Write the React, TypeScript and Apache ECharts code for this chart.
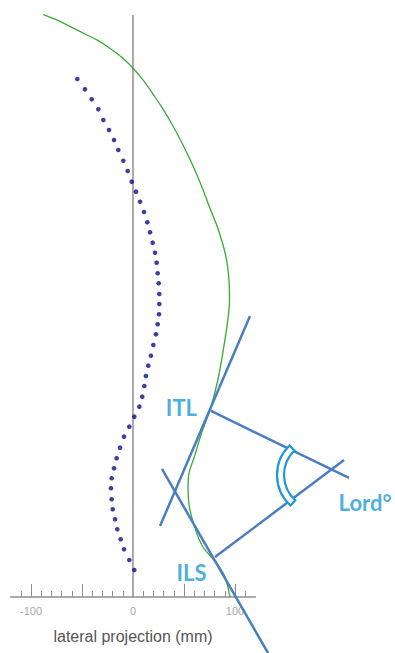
import React, { useEffect, useRef } from "react";
import * as echarts from "echarts";

// Green curve: sagittal profile (x = lateral mm, y = height mm)
const greenCurve: [number, number][] = [
  [-88, 571], [-73, 565], [-59, 558], [-47, 552], [-35, 546], [-25.5, 540], [-16, 533], [-8, 526.5], [-1, 519.6],
  [9.8, 506.9], [21.6, 490.2], [29.9, 477.5], [39.7, 460.8], [50, 441.2], [59.3, 421.6], [67.6, 402], [75, 382.4],
  [83.8, 359.8], [91.2, 333.3], [94.1, 310.8], [94.6, 291.2],
  [93, 272], [88, 239], [83, 212], [76, 185], [67, 160], [60, 137], [55, 122],
  [54, 108], [55, 90], [60, 70], [68, 50], [82, 33], [90, 20], [95, 0],
];

// Dotted navy series
const dotSeries: [number, number][] = [
  [-54.6, 507.8], [-47.1, 497.7], [-40.5, 487.9], [-34.0, 478.1], [-29.1, 467.6],
  [-23.5, 457.8], [-18.6, 448.0], [-14.4, 438.2], [-9.5, 427.7], [-5.2, 417.6],
  [-1.3, 407.2], [2.9, 397.4], [6.9, 387.5], [10.8, 377.5], [14.0, 367.4],
  [16.7, 357.5], [19.3, 347.4], [21.6, 337.5], [23.2, 327.7], [24.2, 317.4],
  [25.2, 307.5], [25.8, 297.1], [25.8, 287.3], [25.5, 277.2], [24.2, 267.4],
  [22.5, 257.5], [19.9, 247.1], [17.6, 236.6], [15.0, 226.8], [12.7, 216.7],
  [11.1, 206.9], [9.1, 196.4], [6.2, 186.6], [1.3, 176.8], [-3.6, 167.0],
  [-8.8, 157.2], [-12.7, 146.4], [-16.0, 136.0], [-18.6, 126.2], [-20.9, 116.4],
  [-21.6, 106.6], [-20.9, 95.8], [-19.9, 86.0], [-17.6, 76.2], [-15.4, 66.4],
  [-12.1, 56.6], [-8.8, 46.8], [-3.6, 36.3], [1.3, 26.5],
];

// Construction lines (tangents at ITL / ILS and their perpendiculars)
const tangentITL: [number, number][] = [[114.7, 275.5], [26.5, 69.6]];
const tangentILS: [number, number][] = [[28.4, 125.5], [132.4, -54.9]];
const perpITL: [number, number][] = [[76.5, 182.4], [211.8, 116.7]];
const perpILS: [number, number][] = [[80.4, 39.2], [206.9, 134.3]];
const constructionLines = [tangentITL, tangentILS, perpITL, perpILS];

// Vertical zero reference line
const zeroLine: [number, number][] = [[0, 0], [0, 570.6]];

// Angle arc centre (mm)
const arcCenter: [number, number] = [181.4, 119.6];

// Annotation labels
const labelNames = ["ITL", "ILS", "Lord°"];
const labelX = [47.5, 57.4, 227.5];
const labelY = [185.3, 24.5, 92.2];

// Axis ticks
const xAxisMin = -120;
const xAxisMax = 120;
const xMinorTicks = [-110, -100, -90, -80, -70, -60, -50, -40, -30, -20, -10, 10, 20, 30, 40, 50, 60, 70, 80, 90, 100, 110];
const xMajorTicks = [-100, -50, 50, 100];
const xTickLabels = [-100, 0, 100];
const xAxisName = "lateral projection (mm)";

export default function App() {
  const ref = useRef<HTMLDivElement>(null);
  useEffect(() => {
    if (!ref.current) return;
    const chart = echarts.init(ref.current, null, { renderer: "svg" });
    const axisGray = "#8f8f8f";
    const lineBlue = "#4a7dc1";
    const lightBlue = "#1a9ad6";
    const scale = 1.02;
    const x0 = 133;
    const y0 = 597;
    const W = 395;
    const H = 653;
    const xMin = -x0 / scale;
    const xMax = (W - x0) / scale;
    const yMin = -(H - y0) / scale;
    const yMax = y0 / scale;
    const axLeft = x0 + xAxisMin * scale;
    const axWidth = (xAxisMax - xAxisMin) * scale;
    const plainLine = (data: [number, number][], color: string, width: number, z: number) => ({
      type: "line",
      data,
      showSymbol: false,
      clip: false,
      silent: true,
      lineStyle: { color, width },
      z,
    });
    chart.setOption({
      animation: false,
      backgroundColor: "#ffffff",
      grid: [
        { left: 0, top: 0, width: W, height: H, outerBoundsMode: "none", containLabel: false },
        { left: axLeft, width: axWidth, top: y0 - 100, height: 100, outerBoundsMode: "none", containLabel: false },
      ],
      xAxis: [
        { type: "value", gridIndex: 0, min: xMin, max: xMax, show: false },
        {
          type: "value",
          gridIndex: 1,
          min: xAxisMin,
          max: xAxisMax,
          position: "bottom",
          axisLine: { show: true, onZero: false, lineStyle: { color: axisGray, width: 1.5 } },
          axisTick: { show: true, inside: true, length: 6, customValues: xMinorTicks, lineStyle: { color: axisGray, width: 1 } },
          axisLabel: {
            show: true,
            customValues: xTickLabels,
            color: "#a8a8a8",
            fontSize: 11,
            margin: 8,
            fontFamily: "Liberation Sans, Arial, sans-serif",
          },
          splitLine: { show: false },
          name: xAxisName,
          nameLocation: "middle",
          nameGap: 31,
          nameTextStyle: { color: "#555555", fontSize: 16, fontFamily: "Liberation Sans, Arial, sans-serif" },
        },
        {
          type: "value",
          gridIndex: 1,
          min: xAxisMin,
          max: xAxisMax,
          position: "bottom",
          axisLine: { show: false, onZero: false },
          axisTick: { show: true, inside: true, length: 13, customValues: xMajorTicks, lineStyle: { color: axisGray, width: 1 } },
          axisLabel: { show: false },
          splitLine: { show: false },
        },
      ],
      yAxis: [
        { type: "value", gridIndex: 0, min: yMin, max: yMax, show: false },
        { type: "value", gridIndex: 1, min: 0, max: 1, show: false },
      ],
      series: [
        plainLine(zeroLine, axisGray, 1.5, 1),
        {
          type: "line",
          data: greenCurve,
          smooth: 0.35,
          showSymbol: false,
          clip: false,
          lineStyle: { color: "#3aa935", width: 1.3 },
          z: 2,
        },
        {
          type: "scatter",
          data: dotSeries,
          symbolSize: 4.6,
          clip: false,
          itemStyle: { color: "#0c0c8e" },
          z: 3,
        },
        ...constructionLines.map((seg) => plainLine(seg, lineBlue, 2.5, 4)),
        {
          type: "custom",
          coordinateSystem: "cartesian2d",
          data: [arcCenter],
          clip: false,
          z: 6,
          renderItem: (_params: any, api: any) => {
            const p = api.coord([api.value(0), api.value(1)]);
            return {
              type: "sector",
              shape: {
                cx: p[0],
                cy: p[1],
                r0: 34,
                r: 41,
                startAngle: (132 * Math.PI) / 180,
                endAngle: (226 * Math.PI) / 180,
                clockwise: true,
              },
              style: { fill: "#ffffff", stroke: lightBlue, lineWidth: 2.2 },
            };
          },
        },
        {
          type: "scatter",
          data: labelNames.map((n, i) => ({ name: n, value: [labelX[i], labelY[i]] })),
          symbolSize: 0,
          clip: false,
          z: 7,
          label: {
            show: true,
            position: "inside",
            formatter: (p: any) => p.name,
            color: lightBlue,
            fontSize: 22,
            fontWeight: "bold",
            fontFamily: "Lato, sans-serif",
          },
        },
      ],
    });
    return () => chart.dispose();
  }, []);
  return <div ref={ref} style={{ position: "absolute", left: 0, top: 0, width: 395, height: 653 }} />;
}
